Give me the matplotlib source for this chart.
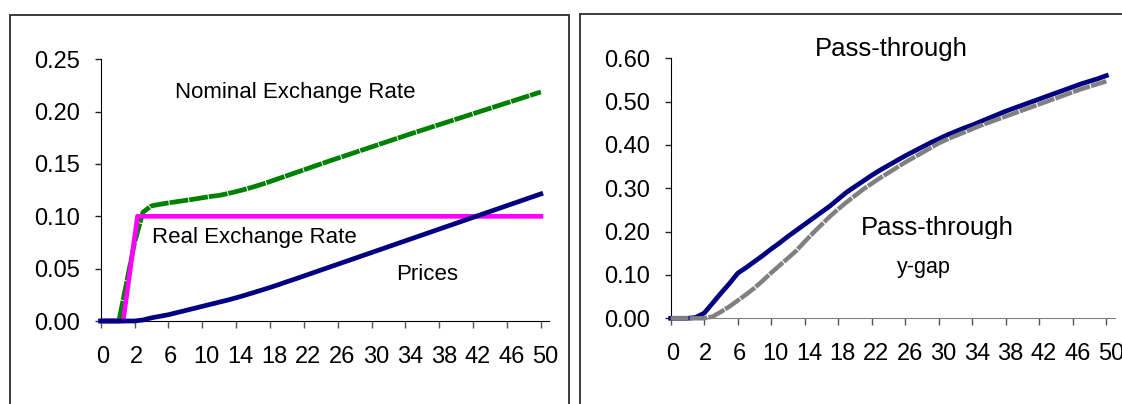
import numpy as np
import matplotlib
matplotlib.use("Agg")
import matplotlib.pyplot as plt
from matplotlib.patches import Rectangle
from matplotlib.transforms import Bbox, TransformedBbox, ScaledTranslation

plt.rcParams['font.family'] = ['Liberation Sans', 'DejaVu Sans']

# periods on a category axis, labels every fourth category
periods = np.arange(53)
tick_pos = np.arange(0, 53, 4)
tick_labels = ['0', '2', '6', '10', '14', '18', '22', '26', '30', '34', '38', '42', '46', '50']

# the shock: both exchange rates jump between the 2nd and 4th category
nominal_x = [0, 2.15, 4.0] + list(range(5, 53))
nominal_rate = [0, 0, 0.075, 0.104, 0.110, 0.1115, 0.1128, 0.114,
                0.1152, 0.1164, 0.1177, 0.119, 0.1200, 0.1217, 0.1236, 0.1257, 0.1280, 0.1305,
                0.1332, 0.1360, 0.1388, 0.1416, 0.1444, 0.1472, 0.1500, 0.1528, 0.1555, 0.1582,
                0.1609, 0.1636, 0.1663, 0.1690, 0.1717, 0.1744, 0.1771, 0.1798, 0.1824, 0.1850,
                0.1876, 0.1902, 0.1928, 0.1954, 0.1980, 0.2006, 0.2032, 0.2058, 0.2084, 0.2110,
                0.2136, 0.2162, 0.2188]
real_x = [0, 2.65, 4.35, 52]
real_rate = [0, 0, 0.10, 0.10]
prices = [0, 0, 0, 0, 0, 0.001, 0.003, 0.0045, 0.006, 0.008,
          0.010, 0.012, 0.014, 0.016, 0.018, 0.020, 0.0222, 0.0245, 0.027, 0.0295,
          0.032, 0.0347, 0.0375, 0.0402, 0.0430, 0.0458, 0.0486, 0.0514, 0.0542, 0.0570,
          0.0598, 0.0626, 0.0654, 0.0682, 0.0710, 0.0738, 0.0766, 0.0794, 0.0822, 0.0850,
          0.0878, 0.0906, 0.0934, 0.0962, 0.0990, 0.1018, 0.1046, 0.1074, 0.1102, 0.1130,
          0.1158, 0.1186, 0.1214]

pass_through = [0, 0, 0, 0.002, 0.012, 0.035, 0.058, 0.080, 0.104, 0.117,
                0.131, 0.145, 0.160, 0.174, 0.189, 0.203, 0.217, 0.231, 0.245, 0.259,
                0.275, 0.291, 0.304, 0.317, 0.330, 0.342, 0.353, 0.364, 0.375, 0.385,
                0.395, 0.405, 0.414, 0.423, 0.431, 0.439, 0.446, 0.454, 0.462, 0.470,
                0.478, 0.485, 0.492, 0.499, 0.506, 0.513, 0.520, 0.527, 0.534, 0.541,
                0.547, 0.553, 0.560]
pass_through_ygap = [0, 0, 0, 0, 0, 0.004, 0.015, 0.027, 0.041, 0.055,
                     0.070, 0.087, 0.105, 0.122, 0.139, 0.156, 0.177, 0.197, 0.216, 0.235,
                     0.252, 0.268, 0.283, 0.298, 0.311, 0.324, 0.336, 0.348, 0.360, 0.371,
                     0.382, 0.393, 0.404, 0.413, 0.421, 0.429, 0.437, 0.445, 0.452, 0.459,
                     0.466, 0.473, 0.480, 0.487, 0.494, 0.501, 0.508, 0.515, 0.522, 0.529,
                     0.535, 0.541, 0.547]

fig = plt.figure(figsize=(11.22, 4.04), dpi=100)

# chart frames
fig.add_artist(Rectangle((10 / 1122, -0.1), 558.7 / 1122, 1.1 - 15 / 404,
                         transform=fig.transFigure, fill=False, ec='#3a3a3a', lw=1.4))
fig.add_artist(Rectangle((580 / 1122, -0.1), 0.6, 1.1 - 14 / 404,
                         transform=fig.transFigure, fill=False, ec='#3a3a3a', lw=1.4))


def style_axis(ax, ymax, yticks, xcolor):
    ax.set_xlim(0, 53)
    ax.set_ylim(0, ymax)
    for s in ['top', 'right']:
        ax.spines[s].set_visible(False)
    ax.spines['left'].set_color('black')
    ax.spines['bottom'].set_color(xcolor)
    ax.set_xticks(tick_pos)
    ax.set_xticklabels(tick_labels)
    ax.set_yticks(yticks)
    ax.set_yticklabels(['%.2f' % v for v in yticks])
    ax.tick_params(axis='x', length=5, width=1, color='#555555', pad=13, labelsize=17)
    ax.tick_params(axis='y', length=4.5, width=1, color='#222222', pad=10.5, labelsize=17)
    # excel nudges the category labels a little to the right
    for lab in ax.get_xticklabels():
        dx = (1.5 + 3.0 * (len(lab.get_text()) - 1)) / 100
        lab.set_transform(lab.get_transform() + ScaledTranslation(dx, 0, fig.dpi_scale_trans))


# left chart: exchange rates and prices
ax1 = fig.add_axes([100.7 / 1122, 83 / 404, 448.6 / 1122, 261.7 / 404])
ax1.plot(nominal_x, nominal_rate, color='#008000', lw=3.4, dashes=(4, 0.2),
         dash_capstyle='butt', clip_on=False, zorder=3)
ax1.plot(real_x, real_rate, color='#ff00ff', lw=3.4, clip_on=False, zorder=4)
ax1.plot(periods, prices, color='#000080', lw=3.4, clip_on=False, zorder=5)
style_axis(ax1, 0.25, np.arange(0, 0.26, 0.05), 'black')
ax1.text(8.78, 0.2135, 'Nominal Exchange Rate', fontsize=16, ha='left', va='baseline')
ax1.text(6.03, 0.0747, 'Real Exchange Rate', fontsize=16, ha='left', va='baseline')
ax1.text(34.9, 0.0391, 'Prices', fontsize=16, ha='left', va='baseline')

# right chart: pass-through
ax2 = fig.add_axes([670.7 / 1122, 85.7 / 404, 444 / 1122, 260 / 404])
ax2.plot(periods, pass_through, color='#000080', lw=3.4, clip_on=False, zorder=3)
ax2.plot(periods, pass_through_ygap, color='#808080', lw=3.2, dashes=(4, 0.25),
         dash_capstyle='butt', clip_on=False, zorder=4)
style_axis(ax2, 0.60, np.arange(0, 0.61, 0.10), '#808080')
ax2.text(17.23, 0.6054, 'Pass-through', fontsize=18.5, ha='left', va='baseline', clip_on=False)
t = ax2.text(22.75, 0.1916, 'Pass-through', fontsize=18.5, ha='left', va='baseline')
t.set_clip_box(TransformedBbox(Bbox([[0, 0.1823], [53, 0.7]]), ax2.transData))
t.set_clip_on(True)
ax2.text(27.0, 0.1052, 'y-gap', fontsize=15.5, ha='left', va='baseline')

fig.savefig('out.png', dpi=100)
